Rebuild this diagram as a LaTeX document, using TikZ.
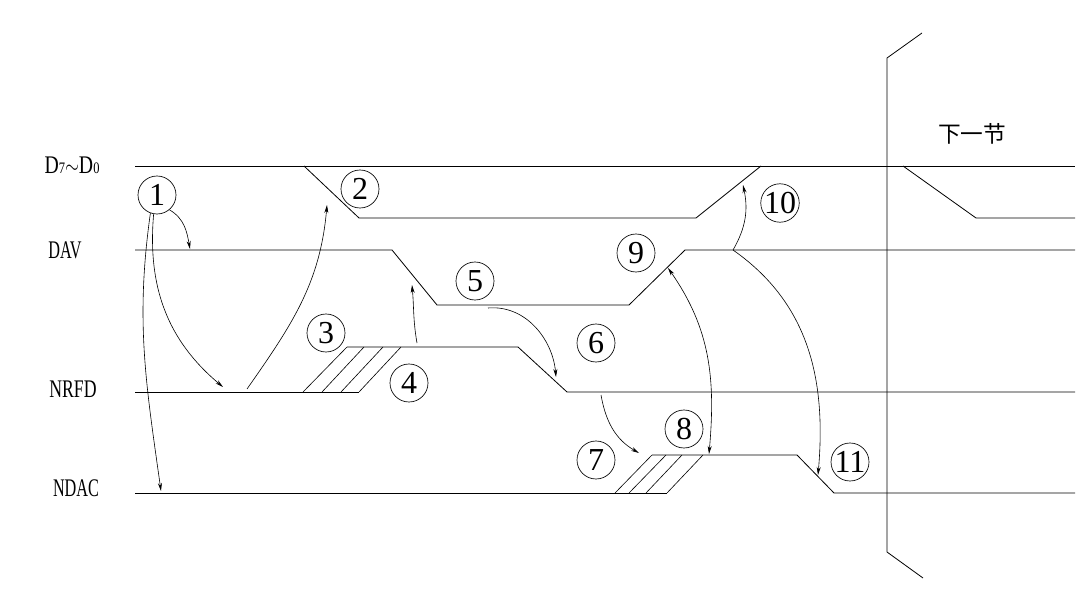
\documentclass[tikz,border=0pt]{standalone}
\usepackage{graphicx}
\usepackage{fontspec}
\setmainfont{Liberation Serif}
\newfontfamily\cjk{Noto Sans CJK SC}
\usepackage{tikz}
\usetikzlibrary{arrows.meta}

\begin{document}
\begin{tikzpicture}[x=0.75pt,y=-0.75pt,
	wave/.style={line width=0.6pt},
	hatch/.style={line width=0.45pt},
	flow/.style={line width=0.45pt,-{Stealth[length=6pt,width=3pt]}},
	dflow/.style={line width=0.45pt,{Stealth[length=6pt,width=3pt]}-{Stealth[length=6pt,width=3pt]}},
	num/.style={draw,circle,line width=0.5pt,minimum size=28.5pt,inner sep=0pt,font=\fontsize{24}{24}\selectfont},
	sig/.style={font=\fontsize{19}{19}\selectfont}]
				\useasboundingbox (0,0) rectangle (1080,595);
				\node [sig] (dbus) at (72,165) {\scalebox{0.78}[1]{D{\fontsize{12}{12}\selectfont 7}$\sim$D{\fontsize{12}{12}\selectfont 0}}};
				\node [sig] (dav) at (65,250) {\scalebox{0.64}[1]{DAV}};
				\node [sig] (nrfd) at (73,389) {\scalebox{0.7}[1]{NRFD}};
				\node [sig] (ndac) at (76,488) {\scalebox{0.64}[1]{NDAC}};
				\draw [wave] (135,166) -- (1075,166);
				\draw [wave] (304,166) -- (359,218) -- (696,218) -- (761,166);
				\draw [wave] (903,166) -- (976,218) -- (1075,218);
				\draw [wave] (135,250) -- (392,250) -- (437,305) -- (629,305) -- (685,250) -- (1075,250);
				\draw [wave] (135,392) -- (359,392);
				\draw [wave] (347,347) -- (518,347) -- (567,392) -- (1075,392);
				\foreach \x/\y in {303/347,322/364,341/383,359/401}
					\draw [hatch] (\x,392) -- (\y,347);
				\draw [wave] (135,493) -- (667,493);
				\draw [wave] (652,455) -- (797,455) -- (834,493) -- (1075,493);
				\foreach \x/\y in {615/652,629/666,646/682,667/703}
					\draw [hatch] (\x,493) -- (\y,455);
				\draw [wave] (922,33) -- (887,58) -- (887,552) -- (923,578);
				\node [font=\cjk\fontsize{17}{17}\selectfont] (next) at (972,134) {下一节};
				\foreach \n/\x/\y in {1/157/195,2/360/189,3/326/333,4/409/383,5/475/281,6/596/343,7/596/460,8/684/429,9/636/253,10/780/203,11/850/462}
					\node [num] (c\n) at (\x,\y) {\n};
				\coordinate (davup) at (190,249);
				\coordinate (nrfdlo) at (223,387);
				\coordinate (ndaclo) at (161,491);
				\coordinate (nrfdup) at (247,389);
				\coordinate (dbusin) at (327,205);
				\coordinate (nrfdhi) at (417,343);
				\coordinate (davin) at (412,285);
				\coordinate (davlo) at (488,308);
				\coordinate (nrfdin) at (556,377);
				\coordinate (nrfdout) at (601,395);
				\coordinate (ndachi) at (639,453);
				\coordinate (davrise) at (668,268);
				\coordinate (ndacend) at (709,454);
				\coordinate (davhi) at (733,250);
				\coordinate (dbusrise) at (743,185);
				\coordinate (ndacin) at (818,475);
				\draw [flow] (c1.-50) to[out=-30,in=100] (davup);
				\draw [flow] (c1.-100) to[out=-95,in=140] (nrfdlo);
				\draw [flow] (c1.-110) to[out=-98,in=98] (ndaclo);
				\draw [flow] (nrfdup) to[out=55,in=-95] (dbusin);
				\draw [flow] (nrfdhi) to[out=100,in=-85] (davin);
				\draw [flow] (davlo) to[out=5,in=95] (nrfdin);
				\draw [flow] (nrfdout) to[out=-80,in=150] (ndachi);
				\draw [dflow] (davrise) to[out=-55,in=85] (ndacend);
				\draw [flow] (davhi) to[out=60,in=-78] (dbusrise);
				\draw [flow] (davhi) to[out=-35,in=85] (ndacin);
			\end{tikzpicture}
\end{document}
